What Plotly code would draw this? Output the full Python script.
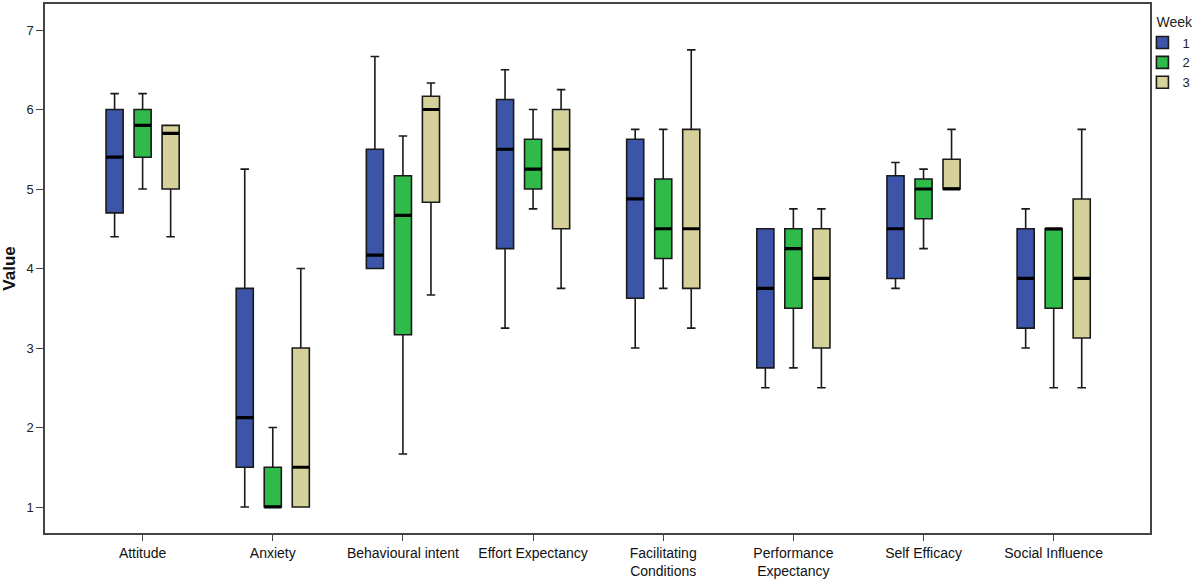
import plotly.graph_objects as go

categories = ["Attitude", "Anxiety", "Behavioural intent", "Effort Expectancy",
              "Facilitating<br>Conditions", "Performance<br>Expectancy",
              "Self Efficacy", "Social Influence"]
weeks = ["1", "2", "3"]
colors = ["#3d55a9", "#2fba4a", "#d6d19b"]

# Week 1
w1_low = [4.4, 1.0, 4.0, 3.25, 3.0, 2.5, 3.75, 3.0]
w1_q1 = [4.7, 1.5, 4.0, 4.25, 3.625, 2.75, 3.875, 3.25]
w1_med = [5.4, 2.125, 4.167, 5.5, 4.875, 3.75, 4.5, 3.875]
w1_q3 = [6.0, 3.75, 5.5, 6.125, 5.625, 4.5, 5.167, 4.5]
w1_high = [6.2, 5.25, 6.667, 6.5, 5.75, 4.5, 5.333, 4.75]

# Week 2
w2_low = [5.0, 1.0, 1.667, 4.75, 3.75, 2.75, 4.25, 2.5]
w2_q1 = [5.4, 1.0, 3.167, 5.0, 4.125, 3.5, 4.625, 3.5]
w2_med = [5.8, 1.0, 4.667, 5.25, 4.5, 4.25, 5.0, 4.5]
w2_q3 = [6.0, 1.5, 5.167, 5.625, 5.125, 4.5, 5.125, 4.5]
w2_high = [6.2, 2.0, 5.667, 6.0, 5.75, 4.75, 5.25, 4.5]

# Week 3
w3_low = [4.4, 1.0, 3.667, 3.75, 3.25, 2.5, 5.0, 2.5]
w3_q1 = [5.0, 1.0, 4.833, 4.5, 3.75, 3.0, 5.0, 3.125]
w3_med = [5.7, 1.5, 6.0, 5.5, 4.5, 3.875, 5.0, 3.875]
w3_q3 = [5.8, 3.0, 6.167, 6.0, 5.75, 4.5, 5.375, 4.875]
w3_high = [5.8, 4.0, 6.333, 6.25, 6.75, 4.75, 5.75, 5.75]

stats = [
    (w1_low, w1_q1, w1_med, w1_q3, w1_high),
    (w2_low, w2_q1, w2_med, w2_q3, w2_high),
    (w3_low, w3_q1, w3_med, w3_q3, w3_high),
]

fig = go.Figure()
for i, (lo, q1, med, q3, hi) in enumerate(stats):
    fig.add_trace(go.Box(
        name=weeks[i], x=categories, q1=q1, median=med, q3=q3,
        lowerfence=lo, upperfence=hi, offsetgroup=weeks[i],
        fillcolor=colors[i], line=dict(color="#1a1a1a", width=1.6),
        whiskerwidth=0.5, boxpoints=False, showlegend=True,
    ))
for i, (lo, q1, med, q3, hi) in enumerate(stats):
    # thick median bar overlay
    fig.add_trace(go.Box(
        name=weeks[i], x=categories, q1=med, median=med, q3=med,
        lowerfence=med, upperfence=med, offsetgroup=weeks[i],
        fillcolor="rgba(0,0,0,0)", line=dict(color="#000000", width=3.2),
        whiskerwidth=0, boxpoints=False, showlegend=False, hoverinfo="skip",
    ))

fig.update_layout(
    width=1200, height=580,
    margin=dict(l=45, r=50, t=4, b=47, autoexpand=False),
    paper_bgcolor="white", plot_bgcolor="white",
    boxmode="group", boxgap=0.354, boxgroupgap=0.39,
    font=dict(family="Liberation Sans, Arial", color="#222", size=12),
    legend=dict(title=dict(text="Week", font=dict(size=14)),
                x=1.004, y=0.99, xanchor="left", yanchor="top",
                font=dict(size=13), tracegroupgap=0, itemwidth=30,
                indentation=-12, bgcolor="rgba(0,0,0,0)"),
    xaxis=dict(type="category", categoryorder="array", categoryarray=categories,
               range=[-0.75, 7.74], showgrid=False, zeroline=False,
               showline=True, linecolor="#444", linewidth=1.5, mirror=True,
               ticks="outside", ticklen=6, tickcolor="#444",
               tickfont=dict(size=14, color="#111")),
    yaxis=dict(range=[0.673, 7.327], tickvals=[1, 2, 3, 4, 5, 6, 7],
               showgrid=False, zeroline=False,
               showline=True, linecolor="#444", linewidth=1.5, mirror=True,
               ticks="outside", ticklen=7, tickcolor="#444",
               tickfont=dict(size=13, color="#222"),
               title=dict(text="<b>Value</b>", font=dict(size=17, color="#111"),
                          standoff=6)),
)

fig.write_html(
    "out.html",
    config={"displayModeBar": False},
    post_script="document.body.style.margin='0px';"
                "document.documentElement.style.overflow='hidden';",
)
